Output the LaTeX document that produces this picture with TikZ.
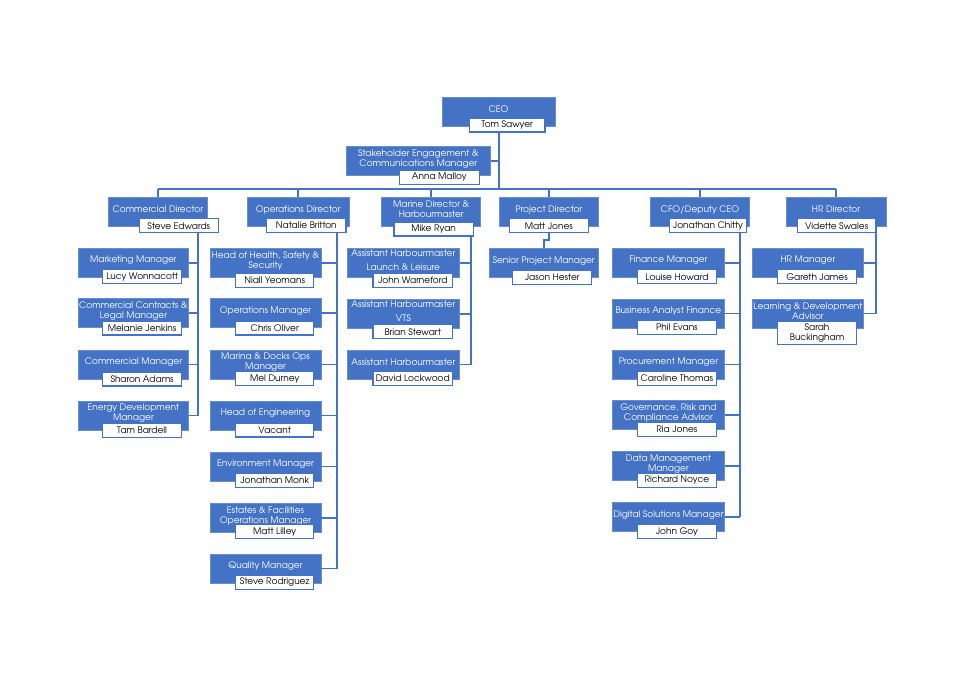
\documentclass[tikz,border=0pt]{standalone}
\usepackage{fontspec}
\setmainfont{TeX Gyre Adventor}
\definecolor{ob}{HTML}{4472C4}
\tikzset{
  rolebox/.style={fill=ob, draw=ob!80!white, line width=0.6pt, inner sep=0pt, minimum height=29pt},
  roletext/.style={text=white, font=\fontsize{9}{10}\selectfont, align=center, inner sep=0pt},
  personbox/.style={fill=white, draw=ob, line width=1.2pt, inner sep=0pt, minimum height=14pt, font=\fontsize{9}{10}\selectfont, align=center},
  conn/.style={draw=ob, line width=1.8pt}
}
\newcommand\orgunit[9]{%
  \node[rolebox, minimum width={#4-#2}] (#1) at ({(#2+#4)/2},{#3+14.5}) {};
  \node[roletext] (#1t) at ({(#2+#4)/2},{#3+12.3}) {#5};
  \node[personbox, minimum width={#7-#6}] (#1p) at ({(#6+#7)/2},#8) {#9};}
\begin{document}
\begin{tikzpicture}[x=1pt,y=-1pt]
\useasboundingbox[fill=white] (0,0) rectangle (976,683);
% top
\orgunit{ceo}{442}{97}{555}{CEO}{469.3}{545}{125}{Tom Sawyer}
\orgunit{stk}{346}{146.7}{490.7}{Stakeholder Engagement \&\\Communications Manager}{399.3}{479.3}{177.5}{Anna Malloy}
% directors
\orgunit{com}{108.3}{197.3}{207.3}{Commercial Director}{139.3}{218.3}{225.8}{Steve Edwards}
\orgunit{ops}{247.3}{197.3}{349}{Operations Director}{266.7}{346}{225.5}{Natalie Britton}
\orgunit{mar}{381.7}{197.3}{480.7}{Marine Director \&\\Harbourmaster}{394}{473.3}{229}{Mike Ryan}
\orgunit{prj}{499.3}{197.3}{598.3}{Project Director}{509.3}{588.3}{225.8}{Matt Jones}
\orgunit{cfo}{650.7}{197.3}{749.3}{CFO/Deputy CEO}{669.3}{746.7}{225.8}{Jonathan Chitty}
\orgunit{hrd}{786}{197.3}{886}{HR Director}{797.3}{876}{225.8}{Vidette Swales}
% commercial
\orgunit{cm1}{78.5}{248.3}{188.3}{Marketing Manager}{102.5}{181.7}{276.8}{Lucy Wonnacott}
\orgunit{cm2}{78.5}{298.7}{188.3}{Commercial Contracts \&\\Legal Manager}{102.5}{181.7}{327.9}{Melanie Jenkins}
\orgunit{cm3}{78.5}{350}{188.3}{Commercial Manager}{102.5}{181.7}{378.9}{Sharon Adams}
\orgunit{cm4}{78.5}{401}{188.3}{Energy Development\\Manager}{102.5}{181.7}{430.3}{Tam Bardell}
% operations
\orgunit{op1}{210}{248.7}{321}{Head of Health, Safety \&\\Security}{235.7}{313.7}{280.5}{Niall Yeomans}
\orgunit{op2}{210}{298.7}{321}{Operations Manager}{235.7}{313.7}{327.9}{Chris Oliver}
\orgunit{op3}{210}{350}{321}{Marina \& Docks Ops\\Manager}{235.7}{313.7}{378.7}{Mel Durney}
\orgunit{op4}{210}{401}{321}{Head of Engineering}{235.7}{313.7}{430}{Vacant}
\orgunit{op5}{210}{452}{321}{Environment Manager}{235.7}{313.7}{480.5}{Jonathan Monk}
\orgunit{op6}{210}{503.3}{321}{Estates \& Facilities\\Operations Manager}{235.7}{313.7}{531.7}{Matt Lilley}
\orgunit{op7}{210}{554}{321}{Quality Manager}{235.7}{313.7}{582.5}{Steve Rodriguez}
% marine
\orgunit{ma1}{347.3}{248.3}{459.3}{Assistant Harbourmaster\\[4pt]Launch \& Leisure}{373}{452.5}{280.5}{John Warneford}
\orgunit{ma2}{347.3}{299.3}{459.3}{Assistant Harbourmaster\\[4pt]VTS}{373}{452.5}{331.7}{Brian Stewart}
\orgunit{ma3}{347.3}{350}{459.3}{Assistant Harbourmaster}{373}{452.5}{378.5}{David Lockwood}
% project
\orgunit{spm}{489}{248.3}{598.3}{Senior Project Manager}{512.7}{591.7}{277.2}{Jason Hester}
% cfo
\orgunit{cf1}{612.5}{248.3}{724.3}{Finance Manager}{637.5}{716.3}{276.8}{Louise Howard}
\orgunit{cf2}{612.5}{299}{724.3}{Business Analyst Finance}{637.5}{716.3}{327.7}{Phil Evans}
\orgunit{cf3}{612.5}{350}{724.3}{Procurement Manager}{637.5}{716.3}{378.5}{Caroline Thomas}
\orgunit{cf4}{612.5}{400.7}{724.3}{Governance, Risk and\\Compliance Advisor}{637.5}{716.3}{429.7}{Ria Jones}
\orgunit{cf5}{612.5}{451.7}{724.3}{Data Management\\Manager}{637.5}{716.3}{480.5}{Richard Noyce}
\orgunit{cf6}{612.5}{502.7}{724.3}{Digital Solutions Manager}{637.5}{716.3}{531.7}{John Goy}
% hr
\orgunit{hr1}{752.5}{248.3}{863.3}{HR Manager}{777.8}{856.3}{276.8}{Gareth James}
\node[rolebox, minimum width=110.8pt] (hr2) at (807.9,313.5) {};
\node[roletext] (hr2t) at (807.9,311.3) {Learning \& Development\\Advisor};
\node[personbox, minimum width=78.5pt, minimum height=23.3pt] (hr2p) at (817.05,332.7) {Sarah\\Buckingham};
% connectors
\coordinate (ceoj) at (498.7,188.7);
\coordinate (comv) at (198,0);
\coordinate (opsv) at (337.3,0);
\coordinate (marv) at (471,0);
\coordinate (cfov) at (740,0);
\coordinate (hrv) at (876,0);
\draw[conn] (ceoj |- ceop.south) -- (ceoj);
\draw[conn] (stk.east) -- (stk.east -| ceoj);
\draw[conn] (com.north |- ceoj) -- (hrd.north |- ceoj);
\foreach \d in {com,ops,mar,prj,cfo,hrd} \draw[conn] (\d.north |- ceoj) -- (\d.north);
\draw[conn] (comv |- comp.south) -- (comv |- cm4.east);
\foreach \c in {cm1,cm2,cm3,cm4} \draw[conn] (\c.east) -- (\c.east -| comv);
\draw[conn] (opsv |- opsp.south) -- (opsv |- op7.east);
\foreach \c in {op1,op2,op3,op4,op5,op6,op7} \draw[conn] (\c.east) -- (\c.east -| opsv);
\draw[conn] (marv |- marp.south) -- (marv |- ma3.east);
\foreach \c in {ma1,ma2,ma3} \draw[conn] (\c.east) -- (\c.east -| marv);
\draw[conn] (prjp.south) -- ++(0,6.7) -| (spm.north);
\draw[conn] (cfov |- cfop.south) -- (cfov |- cf6.east);
\foreach \c in {cf1,cf2,cf3,cf4,cf5,cf6} \draw[conn] (\c.east) -- (\c.east -| cfov);
\draw[conn] (hrv |- hrdp.south) -- (hrv |- hr2.east);
\foreach \c in {hr1,hr2} \draw[conn] (\c.east) -- (\c.east -| hrv);
\end{tikzpicture}
\end{document}
